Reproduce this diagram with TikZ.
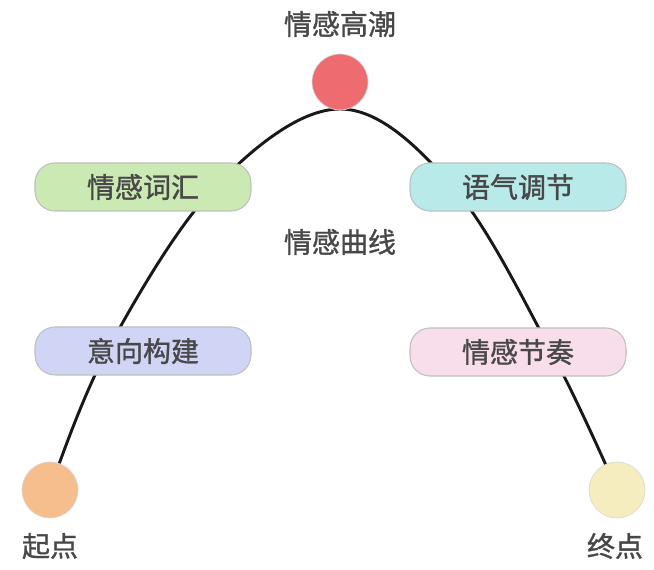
\documentclass[tikz,border=0pt]{standalone}
\usepackage{fontspec}
\setmainfont[FakeBold=1.2]{Noto Sans CJK SC}
\definecolor{peak}{HTML}{EE6B70}
\definecolor{startc}{HTML}{F6BE8C}
\definecolor{endc}{HTML}{F6EDBE}
\definecolor{greenb}{HTML}{CBEAB3}
\definecolor{lavb}{HTML}{D0D5F6}
\definecolor{cyanb}{HTML}{B8EAEA}
\definecolor{pinkb}{HTML}{F8DEEA}
\definecolor{txt}{HTML}{484848}
\begin{document}
\begin{tikzpicture}[x=0.75pt,y=-0.75pt,
  stage/.style={draw=black!25, line width=0.8pt, rounded corners=15pt, minimum width=162pt, minimum height=36pt, inner sep=0pt, font=\fontsize{21}{25}\selectfont, text=txt},
  dot/.style={circle, draw=black!15, line width=0.5pt, minimum size=42pt, inner sep=0pt},
  lbl/.style={font=\fontsize{21}{25}\selectfont, text=txt, inner sep=0pt},
  spine/.style={line width=2.2pt, draw=black!90}]
\useasboundingbox (0,0) rectangle (654,570);
% spine coordinates
\coordinate (p0) at (50,490);
\coordinate (p1) at (107,351);
\coordinate (p2) at (215,187);
\coordinate (p3) at (340,109);
\coordinate (p4) at (453,187);
\coordinate (p5) at (551,351);
\coordinate (p6) at (617,490);
\draw[spine] plot[smooth, tension=0.6] coordinates {(p0) (p1) (p2) (p3) (p4) (p5) (p6)};
% nodes
\node[dot, fill=peak] (peak) at (340,82) {};
\node[dot, fill=startc] (start) at (50,490) {};
\node[dot, fill=endc] (end) at (617,490) {};
\node[stage, fill=greenb] (vocab) at (143,187) {情感词汇};
\node[stage, fill=lavb] (image) at (143,351) {意向构建};
\node[stage, fill=cyanb] (tone) at (518,187) {语气调节};
\node[stage, fill=pinkb] (rhythm) at (518,352) {情感节奏};
\node[lbl] (peaklbl) at (340,24) {情感高潮};
\node[lbl] (curvelbl) at (340,242) {情感曲线};
\node[lbl] (startlbl) at (50,546) {起点};
\node[lbl] (endlbl) at (615,546) {终点};
\end{tikzpicture}
\end{document}
